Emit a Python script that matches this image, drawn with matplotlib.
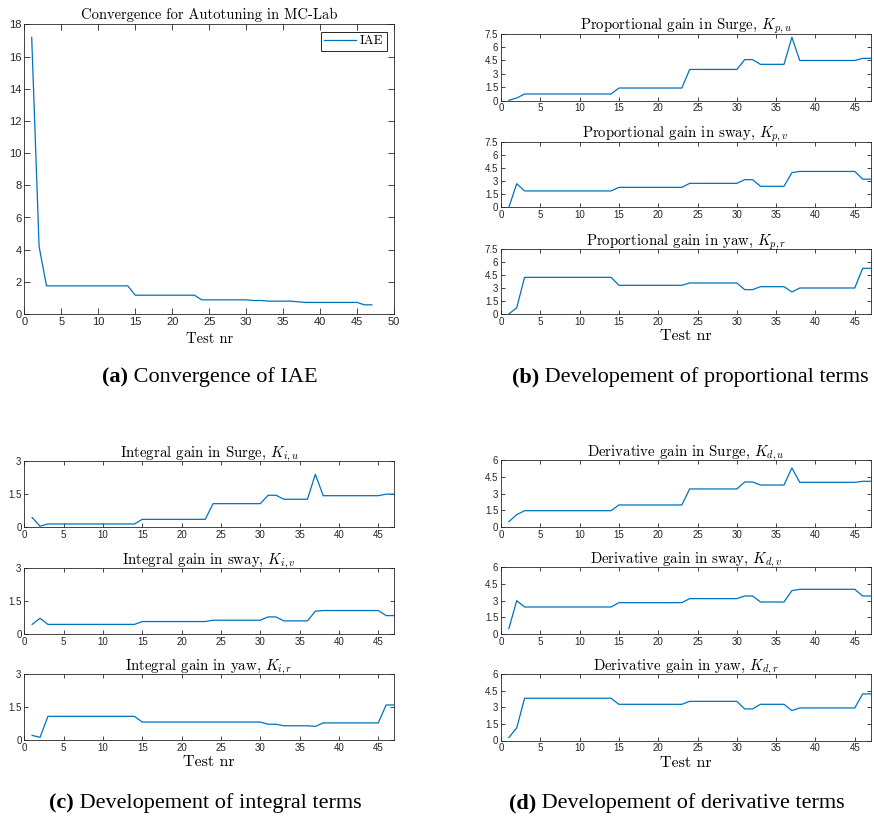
import matplotlib
matplotlib.use("Agg")
import matplotlib.pyplot as plt

plt.rcParams['mathtext.fontset'] = 'cm'
plt.rcParams['axes.unicode_minus'] = False

W, H = 874, 819
BLUE = '#0072BD'
AXC = '#262626'

test_nr = list(range(1, 48))

# IAE per test
iae = [17.2, 4.2, 1.75, 1.75, 1.75, 1.75, 1.75, 1.75, 1.75, 1.75, 1.75, 1.75, 1.75, 1.75,
       1.17, 1.17, 1.17, 1.17, 1.17, 1.17, 1.17, 1.17, 1.17,
       0.88, 0.88, 0.88, 0.88, 0.88, 0.88, 0.88, 0.84, 0.84,
       0.80, 0.80, 0.80, 0.80, 0.76, 0.72, 0.72, 0.72, 0.72, 0.72, 0.72, 0.72, 0.72, 0.57, 0.57]

# proportional gains
kp_u = [0.05, 0.3, 0.75, 0.75, 0.75, 0.75, 0.75, 0.75, 0.75, 0.75, 0.75, 0.75, 0.75, 0.75,
        1.42, 1.42, 1.42, 1.42, 1.42, 1.42, 1.42, 1.42, 1.42,
        3.5, 3.5, 3.5, 3.5, 3.5, 3.5, 3.5, 4.6, 4.6,
        4.07, 4.07, 4.07, 4.07, 7.1, 4.5, 4.5, 4.5, 4.5, 4.5, 4.5, 4.5, 4.5, 4.74, 4.74]
kp_v = [0.0, 2.7, 1.87, 1.87, 1.87, 1.87, 1.87, 1.87, 1.87, 1.87, 1.87, 1.87, 1.87, 1.87,
        2.28, 2.28, 2.28, 2.28, 2.28, 2.28, 2.28, 2.28, 2.28,
        2.74, 2.74, 2.74, 2.74, 2.74, 2.74, 2.74, 3.16, 3.16,
        2.4, 2.4, 2.4, 2.4, 3.96, 4.1, 4.1, 4.1, 4.1, 4.1, 4.1, 4.1, 4.1, 3.22, 3.22]
kp_r = [0.0, 0.73, 4.23, 4.23, 4.23, 4.23, 4.23, 4.23, 4.23, 4.23, 4.23, 4.23, 4.23, 4.23,
        3.31, 3.31, 3.31, 3.31, 3.31, 3.31, 3.31, 3.31, 3.31,
        3.58, 3.58, 3.58, 3.58, 3.58, 3.58, 3.58, 2.81, 2.81,
        3.15, 3.15, 3.15, 3.15, 2.54, 3.0, 3.0, 3.0, 3.0, 3.0, 3.0, 3.0, 3.0, 5.27, 5.27]

# integral gains
ki_u = [0.44, 0.05, 0.15, 0.15, 0.15, 0.15, 0.15, 0.15, 0.15, 0.15, 0.15, 0.15, 0.15, 0.15,
        0.36, 0.36, 0.36, 0.36, 0.36, 0.36, 0.36, 0.36, 0.36,
        1.07, 1.07, 1.07, 1.07, 1.07, 1.07, 1.07, 1.45, 1.45,
        1.27, 1.27, 1.27, 1.27, 2.4, 1.43, 1.43, 1.43, 1.43, 1.43, 1.43, 1.43, 1.43, 1.5, 1.5]
ki_v = [0.45, 0.73, 0.45, 0.45, 0.45, 0.45, 0.45, 0.45, 0.45, 0.45, 0.45, 0.45, 0.45, 0.45,
        0.58, 0.58, 0.58, 0.58, 0.58, 0.58, 0.58, 0.58, 0.58,
        0.64, 0.64, 0.64, 0.64, 0.64, 0.64, 0.64, 0.79, 0.79,
        0.61, 0.61, 0.61, 0.61, 1.05, 1.08, 1.08, 1.08, 1.08, 1.08, 1.08, 1.08, 1.08, 0.85, 0.85]
ki_r = [0.21, 0.12, 1.08, 1.08, 1.08, 1.08, 1.08, 1.08, 1.08, 1.08, 1.08, 1.08, 1.08, 1.08,
        0.82, 0.82, 0.82, 0.82, 0.82, 0.82, 0.82, 0.82, 0.82,
        0.82, 0.82, 0.82, 0.82, 0.82, 0.82, 0.82, 0.72, 0.72,
        0.65, 0.65, 0.65, 0.65, 0.62, 0.78, 0.78, 0.78, 0.78, 0.78, 0.78, 0.78, 0.78, 1.6, 1.6]

# derivative gains
kd_u = [0.5, 1.13, 1.48, 1.48, 1.48, 1.48, 1.48, 1.48, 1.48, 1.48, 1.48, 1.48, 1.48, 1.48,
        1.99, 1.99, 1.99, 1.99, 1.99, 1.99, 1.99, 1.99, 1.99,
        3.42, 3.42, 3.42, 3.42, 3.42, 3.42, 3.42, 4.04, 4.04,
        3.77, 3.77, 3.77, 3.77, 5.29, 4.01, 4.01, 4.01, 4.01, 4.01, 4.01, 4.01, 4.01, 4.1, 4.1]
kd_v = [0.48, 3.0, 2.43, 2.43, 2.43, 2.43, 2.43, 2.43, 2.43, 2.43, 2.43, 2.43, 2.43, 2.43,
        2.82, 2.82, 2.82, 2.82, 2.82, 2.82, 2.82, 2.82, 2.82,
        3.18, 3.18, 3.18, 3.18, 3.18, 3.18, 3.18, 3.42, 3.42,
        2.88, 2.88, 2.88, 2.88, 3.9, 4.02, 4.02, 4.02, 4.02, 4.02, 4.02, 4.02, 4.02, 3.42, 3.42]
kd_r = [0.27, 1.14, 3.83, 3.83, 3.83, 3.83, 3.83, 3.83, 3.83, 3.83, 3.83, 3.83, 3.83, 3.83,
        3.28, 3.28, 3.28, 3.28, 3.28, 3.28, 3.28, 3.28, 3.28,
        3.55, 3.55, 3.55, 3.55, 3.55, 3.55, 3.55, 2.86, 2.86,
        3.28, 3.28, 3.28, 3.28, 2.71, 2.95, 2.95, 2.95, 2.95, 2.95, 2.95, 2.95, 2.95, 4.22, 4.22]

p_titles = [r"Proportional gain in Surge, $K_{p,u}$", r"Proportional gain in sway, $K_{p,v}$",
            r"Proportional gain in yaw, $K_{p,r}$"]
i_titles = [r"Integral gain in Surge, $K_{i,u}$", r"Integral gain in sway, $K_{i,v}$",
            r"Integral gain in yaw, $K_{i,r}$"]
d_titles = [r"Derivative gain in Surge, $K_{d,u}$", r"Derivative gain in sway, $K_{d,v}$",
            r"Derivative gain in yaw, $K_{d,r}$"]

p_yticks = [0, 1.5, 3, 4.5, 6, 7.5]
i_yticks = [0, 1.5, 3]
d_yticks = [0, 1.5, 3, 4.5, 6]

fig = plt.figure(figsize=(W / 100, H / 100), dpi=100)


def px_axes(x0, y0, x1, y1):
    return fig.add_axes([x0 / W, 1 - y1 / H, (x1 - x0) / W, (y1 - y0) / H])


def style(ax, fs, tl):
    for s in ax.spines.values():
        s.set_color(AXC)
        s.set_linewidth(0.6)
    ax.tick_params(direction='in', top=True, right=True, length=tl, width=0.6,
                   colors=AXC, labelsize=fs, pad=2)
    for lab in ax.get_xticklabels() + ax.get_yticklabels():
        lab.set_fontfamily('Liberation Sans')


def fmt(v):
    return ('%g' % v)


# (a) convergence
ax = px_axes(24.3, 24.5, 394, 314)
ax.plot(test_nr, iae, color=BLUE, lw=0.9, label='IAE')
ax.set_xlim(0, 50)
ax.set_ylim(0, 18)
ax.set_xticks(range(0, 51, 5))
ax.set_yticks(range(0, 19, 2))
style(ax, 8, 4)
ax.set_title("Convergence for Autotuning in MC-Lab", fontfamily='cmr10', fontsize=10.5, pad=4)
ax.set_xlabel("Test nr", fontfamily='cmr10', fontsize=10.5, labelpad=4)
leg = ax.legend(loc='upper right', prop={'family': 'cmr10', 'size': 9.5}, fancybox=False,
                edgecolor=AXC, framealpha=1, handlelength=2.4, borderaxespad=0.55,
                borderpad=0.25, handletextpad=0.3)
leg.get_frame().set_linewidth(0.7)


def gain_panel(x0, x1, rows, series, titles, yticks, xlabel):
    for k, (y0, y1) in enumerate(rows):
        ax = px_axes(x0, y0, x1, y1)
        ax.plot(test_nr, series[k], color=BLUE, lw=0.9)
        ax.set_xlim(0, 47)
        ax.set_ylim(yticks[0], yticks[-1])
        ax.set_xticks(range(0, 46, 5))
        ax.set_yticks(yticks)
        ax.set_yticklabels([fmt(v) for v in yticks])
        style(ax, 7, 3)
        ax.set_title(titles[k], fontfamily='cmr10', fontsize=10.7, pad=3)
        if k == 2 and xlabel:
            ax.set_xlabel(xlabel, fontfamily='cmr10', fontsize=11.5, labelpad=2)


gain_panel(501, 870.5, [(33.7, 100.7), (141.7, 207.3), (249, 314)],
           [kp_u, kp_v, kp_r], p_titles, p_yticks, "Test nr")
gain_panel(24.3, 394, [(461, 527.3), (568.3, 634.3), (674.3, 740)],
           [ki_u, ki_v, ki_r], i_titles, i_yticks, "Test nr")
gain_panel(501, 870.5, [(460, 527.3), (567.3, 634), (674.3, 740.5)],
           [kd_u, kd_v, kd_r], d_titles, d_yticks, "Test nr")

# captions under each sub figure
r = fig.canvas.get_renderer()


def caption(xc, yc, tag, text):
    t1 = fig.text(0, 1 - yc / H, tag, fontfamily='Liberation Serif', fontweight='bold',
                  fontsize=16, va='center', ha='left')
    t2 = fig.text(0, 1 - yc / H, ' ' + text, fontfamily='Liberation Serif',
                  fontsize=16, va='center', ha='left')
    w1 = t1.get_window_extent(r).width
    w2 = t2.get_window_extent(r).width
    xs = xc - (w1 + w2) / 2
    t1.set_x(xs / W)
    t2.set_x((xs + w1) / W)


caption(210, 377, '(a)', 'Convergence of IAE')
caption(690, 377, '(b)', 'Developement of proportional terms')
caption(205, 803, '(c)', 'Developement of integral terms')
caption(677, 803, '(d)', 'Developement of derivative terms')

fig.savefig('out.png', dpi=100)
